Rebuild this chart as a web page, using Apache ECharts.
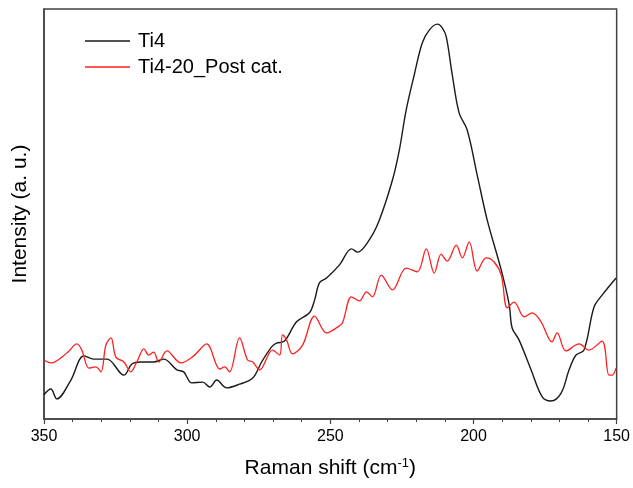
<!DOCTYPE html>
<html>
<head>
<meta charset="utf-8">
<script src="https://cdn.jsdelivr.net/npm/echarts@6/dist/echarts.min.js"></script>
<style>html,body{margin:0;padding:0;background:#fff;}#c{width:633px;height:488px;}</style>
</head>
<body>
<div id="c"></div>
<script>
// Raman shift (cm-1) and intensity (a.u., arbitrary 0-100 scale)
const ti4Shift = [350,347.6,345.5,340.6,336.1,332.6,328.0,322.1,319.3,316.2,311.7,308.2,303.6,301.2,298.4,294.6,292.1,289.7,286.2,281.7,277.1,274.0,270.5,268.8,266.0,261.8,257.3,255.5,253.8,251.3,246.8,242.6,240.5,236.4,232.9,228.3,225.9,223.5,220.7,217.9,215.4,212.6,210.9,209.5,207.4,205.0,202.2,198.7,195.2,190.3,187.5,186.5,184.1,179.9,176.0,172.9,169.4,166.6,164.2,161.4,157.9,155.1,150.2];
const ti4Intensity = [5.9,7.3,4.9,9.5,15.4,14.6,14.6,10.7,13.4,13.9,13.9,14.6,12.0,11.5,8.8,9.0,7.8,9.5,7.6,8.5,10.0,13.9,17.6,18.5,19.0,23.7,25.9,29.0,33.2,34.4,37.6,41.5,40.7,43.7,48.5,58.3,65.6,75.4,83.9,91.7,94.9,96.3,95.4,93.2,83.9,74.6,70.5,59.5,48.5,36.3,27.8,22.2,19.3,12.0,5.4,4.4,6.3,12.0,15.6,16.8,27.3,30.2,34.4];
const postShift = [350,347.6,342.0,338.5,336.8,334.3,331.9,330.1,328.4,326.6,324.9,322.1,319.7,317.6,315.1,313.4,311.7,309.9,307.1,302.2,297.7,293.2,288.6,286.9,285.2,281.7,278.9,277.1,274.7,270.2,267.7,266.7,265.3,263.2,259.7,255.5,251.3,247.5,245.8,242.6,239.8,237.4,235.3,232.2,228.3,223.5,219.6,216.5,213.7,211.3,209.2,206.0,203.9,201.5,198.7,195.6,192.8,190.3,188.2,185.8,182.3,179.5,176.4,172.6,170.8,167.7,163.1,159.7,155.1,152.7,151.6,150.2];
const postIntensity = [14.4,13.7,16.1,18.3,16.8,12.4,12.7,11.5,18.0,19.8,15.1,13.9,11.5,13.9,17.1,15.6,16.3,13.9,16.6,13.7,15.4,18.3,12.2,12.7,11.5,19.8,14.4,13.9,12.0,16.8,15.6,20.5,19.3,15.9,18.0,25.1,21.0,22.4,23.4,29.8,28.8,31.0,29.8,35.1,31.5,36.8,35.9,41.5,35.6,40.2,38.5,42.4,39.3,43.2,36.1,39.3,38.3,35.1,27.1,28.5,24.9,25.9,23.7,18.8,21.0,16.6,18.3,16.8,19.0,10.7,10.7,12.4];
const seriesNames = ['Ti4', 'Ti4-20_Post cat.'];
const xTicks = [350, 300, 250, 200, 150];

const zip = (a, b) => a.map((v, i) => [v, b[i]]);
const font = 'Liberation Sans, Arial, sans-serif';
const chart = echarts.init(document.getElementById('c'), null, {renderer: 'canvas'});
chart.setOption({
  animation: false,
  backgroundColor: '#fff',
  grid: {left: 44, right: 15, top: 9, bottom: 69, show: true, borderColor: '#444', borderWidth: 1.5, backgroundColor: 'transparent'},
  legend: {
    data: seriesNames, orient: 'vertical', left: 85, top: 31, padding: 0,
    icon: 'rect', itemWidth: 45, itemHeight: 1.5, itemGap: 6,
    textStyle: {fontFamily: font, fontSize: 20, color: '#000', padding: [0, 0, 0, 3]}
  },
  xAxis: {
    type: 'value', inverse: true, min: xTicks[xTicks.length - 1], max: xTicks[0], interval: 50,
    name: '{a|Raman shift (cm}{s|-1}{a|)}', nameLocation: 'middle', nameGap: 38,
    nameTextStyle: {rich: {a: {fontFamily: font, fontSize: 21, color: '#000'}, s: {fontFamily: font, fontSize: 13, color: '#000', verticalAlign: 'top', padding: [0, 0, 9, 0]}}},
    axisLine: {show: true, lineStyle: {color: '#444', width: 1.5}},
    axisTick: {show: true, inside: false, length: 5, lineStyle: {color: '#444', width: 1.2}},
    minorTick: {show: true, splitNumber: 5, length: 3, lineStyle: {color: '#444', width: 1}},
    axisLabel: {fontFamily: font, fontSize: 16, color: '#000', margin: 10},
    splitLine: {show: false}
  },
  yAxis: {
    type: 'value', min: 0, max: 100,
    name: 'Intensity (a. u.)', nameLocation: 'middle', nameGap: 13,
    nameTextStyle: {fontFamily: font, fontSize: 21, color: '#000'},
    axisLine: {show: true, lineStyle: {color: '#444', width: 1.5}},
    axisTick: {show: false}, axisLabel: {show: false}, splitLine: {show: false}
  },
  series: [
    {name: seriesNames[0], type: 'line', data: zip(ti4Shift, ti4Intensity), smooth: 0.35, showSymbol: false, symbol: 'none', lineStyle: {color: '#1a1a1a', width: 1.4}, itemStyle: {color: '#1a1a1a'}},
    {name: seriesNames[1], type: 'line', data: zip(postShift, postIntensity), smooth: 0.35, showSymbol: false, symbol: 'none', lineStyle: {color: '#ff2020', width: 1.3}, itemStyle: {color: '#ff2020'}}
  ]
});
</script>
</body>
</html>
